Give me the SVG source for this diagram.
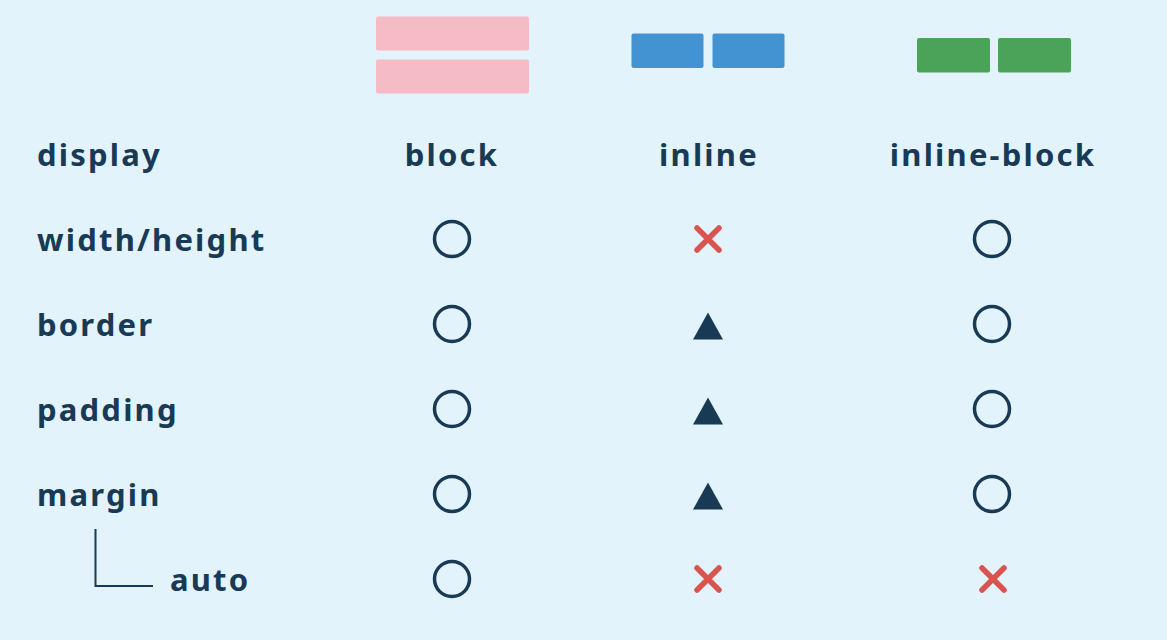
<svg xmlns="http://www.w3.org/2000/svg" width="1167" height="640" viewBox="0 0 1167 640">
<style>
.t{font-family:"Noto Sans","DejaVu Sans",sans-serif;font-weight:bold;font-size:31px;fill:#183a55;letter-spacing:2.2px}
.h{text-anchor:middle}
.ok{fill:none;stroke:#183a55;stroke-width:3.5}
.ng{stroke:#d9534f;stroke-width:5.5;stroke-linecap:round;fill:none}
.tri{fill:#183a55}
</style>
<defs>
<circle id="o" r="17.5" class="ok"/>
<path id="x" d="M-11,-11L11,11M11,-11L-11,11" class="ng"/>
<path id="d" d="M0,-13.5L15,13.5H-15Z" class="tri"/>
</defs>
<rect width="1167" height="640" fill="#e3f3fb"/>
<g id="icon-block">
<rect x="376" y="16.5" width="153" height="34" rx="2" fill="#f5bcc6"/>
<rect x="376" y="59.5" width="153" height="34" rx="2" fill="#f5bcc6"/>
</g>
<g id="icon-inline">
<rect x="631.5" y="33.5" width="72" height="34.5" rx="2" fill="#4393d2"/>
<rect x="712.5" y="33.5" width="72" height="34.5" rx="2" fill="#4393d2"/>
</g>
<g id="icon-inline-block">
<rect x="917" y="38" width="73" height="34.5" rx="2" fill="#4ba35a"/>
<rect x="998" y="38" width="73" height="34.5" rx="2" fill="#4ba35a"/>
</g>
<g id="header">
<text class="t" x="37" y="166">display</text>
<text class="t h" x="452" y="166">block</text>
<text class="t h" x="709" y="166">inline</text>
<text class="t h" x="993" y="166">inline-block</text>
</g>
<g id="row-width-height">
<text class="t" x="37" y="251">width/height</text>
<use href="#o" x="452" y="239"/>
<use href="#x" x="708" y="239"/>
<use href="#o" x="992" y="239"/>
</g>
<g id="row-border">
<text class="t" x="37" y="336">border</text>
<use href="#o" x="452" y="324"/>
<use href="#d" x="708" y="326"/>
<use href="#o" x="992" y="324"/>
</g>
<g id="row-padding">
<text class="t" x="37" y="421">padding</text>
<use href="#o" x="452" y="409"/>
<use href="#d" x="708" y="411"/>
<use href="#o" x="992" y="409"/>
</g>
<g id="row-margin">
<text class="t" x="37" y="506">margin</text>
<use href="#o" x="452" y="494"/>
<use href="#d" x="708" y="496"/>
<use href="#o" x="992" y="494"/>
</g>
<g id="row-auto">
<text class="t" x="170" y="591">auto</text>
<use href="#o" x="452" y="579"/>
<use href="#x" x="708" y="579"/>
<use href="#x" x="993" y="579"/>
</g>
<g id="connectors">
<path d="M95.5,529V586H153" fill="none" stroke="#183a55" stroke-width="2"/>
</g>
</svg>
